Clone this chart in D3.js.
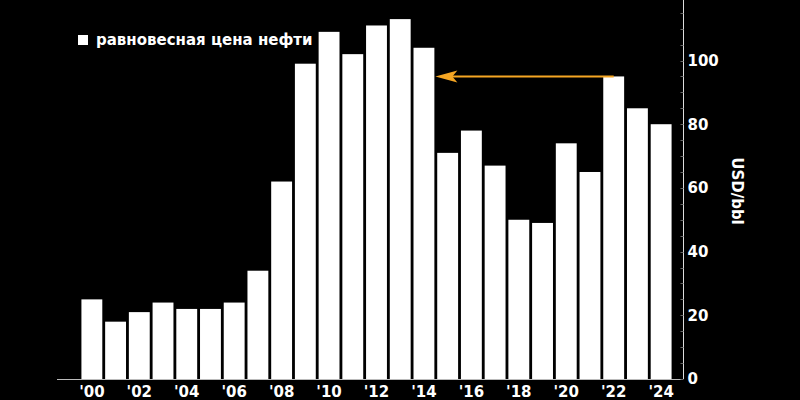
<!DOCTYPE html>
<html><head><meta charset="utf-8">
<script src="https://cdn.jsdelivr.net/npm/d3@7"></script>
<style>
html,body{margin:0;padding:0;background:#000;}
text{font-family:"DejaVu Sans",Verdana,sans-serif;font-weight:bold;fill:#fff;}
</style></head>
<body>
<svg id="c" width="800" height="400"></svg>
<script>
const years = ["2000","2001","2002","2003","2004","2005","2006","2007","2008","2009","2010","2011","2012","2013","2014","2015","2016","2017","2018","2019","2020","2021","2022","2023","2024"];
const values = [25,18,21,24,22,22,24,34,62,99,109,102,111,113,104,71,78,67,50,49,74,65,95,85,80];
const xTickLabels = ["'00","'02","'04","'06","'08","'10","'12","'14","'16","'18","'20","'22","'24"];
const yTickValues = [0,20,40,60,80,100];
const legendLabel = "равновесная цена нефти";
const yAxisTitle = "USD/bbl";
const arrowFrom = "2022", arrowTo = "2014";

const svg = d3.select("#c");
const x = d3.scaleBand().domain(years).range([80,673]).paddingInner(0.12).paddingOuter(0.06);
const y = d3.scaleLinear().domain([0,119]).range([379,0]);

// bars
svg.append("g").selectAll("rect").data(years).join("rect")
  .attr("x", d => x(d)).attr("width", x.bandwidth())
  .attr("y", (d,i) => y(values[i])).attr("height", (d,i) => y(0) - y(values[i]))
  .attr("fill", "#fff");

// x axis line
svg.append("line").attr("x1",57).attr("x2",683).attr("y1",379.5).attr("y2",379.5)
  .attr("stroke","#bbb").attr("stroke-width",1);

// x tick labels
const xl = years.filter((d,i)=>i%2===0);
svg.append("g").selectAll("text").data(xl).join("text")
  .attr("x", d => x(d) + x.bandwidth()/2).attr("y", 397)
  .attr("text-anchor","middle").attr("font-size","15px")
  .text((d,i)=>xTickLabels[i]);

// y axis
const yAxisX = 683.5;
const yg = svg.append("g").attr("transform",`translate(${yAxisX},0)`);
yg.append("line").attr("y1",y(0)).attr("y2",0).attr("stroke","#ddd").attr("stroke-width",1);
yg.selectAll("line.t").data(d3.range(0,120,5)).join("line").attr("class","t")
  .attr("x1",-3).attr("x2",0).attr("y1",d=>Math.round(y(d))+0.5).attr("y2",d=>Math.round(y(d))+0.5)
  .attr("stroke","#666");
yg.selectAll("text").data(yTickValues).join("text")
  .attr("x",4).attr("y",d=>y(d)).attr("dy","0.36em").attr("font-size","15px")
  .text(d=>d);

// y axis title
svg.append("text").attr("transform","translate(732,191) rotate(90)")
  .attr("text-anchor","middle").attr("font-size","15px").text(yAxisTitle);

// legend
svg.append("rect").attr("x",78).attr("y",35).attr("width",10).attr("height",10).attr("fill","#fff");
svg.append("text").attr("x",96).attr("y",45).attr("font-size","15px").text(legendLabel);

// arrow
const ai = years.indexOf(arrowFrom);
const ay = y(values[ai]);
const ax1 = x(arrowFrom) + x.bandwidth()/2;
const ax2 = x(arrowTo) + x.bandwidth() + 1;
const orange = "#f5a623";
svg.append("line").attr("x1",ax1).attr("x2",ax2+12).attr("y1",ay).attr("y2",ay)
  .attr("stroke",orange).attr("stroke-width",2);
svg.append("path")
  .attr("d",`M${ax2},${ay} L${ax2+22},${ay-6} L${ax2+17},${ay} L${ax2+22},${ay+6} Z`)
  .attr("fill",orange);
</script>
</body></html>
